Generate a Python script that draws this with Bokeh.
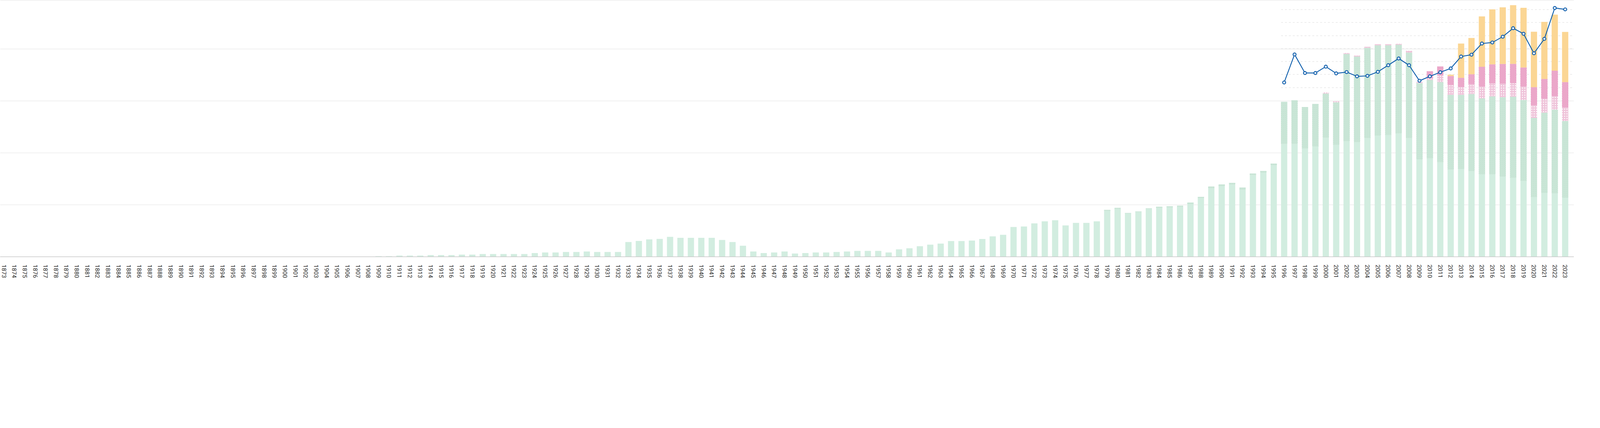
from bokeh.plotting import figure
from bokeh.models import ColumnDataSource, Range1d, FixedTicker, Grid, CanvasTexture, Span
from bokeh.embed import file_html
from bokeh.resources import INLINE

FIRST_YEAR = 1873
years = list(range(1873, 2024))

# solid green (base) series, 1909-2023 (earlier years are empty)
base_start = 1909
base_vals = [
    0.12, 0.12, 0.22, 0.22, 0.22, 0.32, 0.32, 0.32, 0.42, 0.42,
    0.52, 0.52, 0.52, 0.52, 0.52, 0.72, 0.82, 0.82, 0.92, 0.92,
    1.02, 0.92, 0.92, 0.92, 2.84, 3.04, 3.34, 3.44, 3.84, 3.64,
    3.64, 3.64, 3.64, 3.24, 2.84, 2.13, 1.02, 0.72, 0.82, 1.02,
    0.62, 0.72, 0.82, 0.82, 0.92, 1.02, 1.12, 1.13,
    1.13, 0.83, 1.43, 1.63, 2.03, 2.33, 2.53, 3.03, 3.03, 3.13,
    3.43, 3.93, 4.23, 5.73, 5.83, 6.43, 6.83, 7.03, 6.03, 6.53,
    6.53, 6.83, 8.83, 9.23, 8.33, 8.63, 9.23, 9.43, 9.53, 9.63,
    10.13, 11.33, 13.23, 13.63, 13.93, 12.93, 15.73, 16.23, 17.65,
    21.75, 21.75, 20.85, 21.25, 22.95, 21.57, 22.27, 22.08, 22.87, 23.37,
    23.46, 23.77, 22.87, 18.77, 18.96, 18.2, 16.8, 16.9, 16.5, 15.9,
    15.9, 15.45, 15.2, 14.6, 11.5, 12.3, 12.2, 11.4,
]

# green hatched series, 1979-2023
hatch_green_start = 1979
hatch_green_vals = [
    0.2, 0.2, 0.1, 0.1, 0.1, 0.2, 0.2, 0.2, 0.3, 0.2,
    0.3, 0.3, 0.3, 0.4, 0.3, 0.3, 0.3,
    8.1, 8.4, 8.0, 8.2, 8.5, 8.18, 16.8, 16.5, 17.38, 17.38,
    17.29, 17.08, 16.48, 14.7, 15.1, 15.45, 14.4, 14.3, 14.85, 14.6,
    15.0, 15.3, 15.65, 15.6, 15.25, 15.47, 16.15, 14.75,
]

# light pink dotted series, 2000-2023
pink_dot_start = 2000
pink_dot_vals = [
    0.2, 0.21, 0.18, 0.18, 0.2, 0.2, 0.2, 0.2, 0.33, 0.2,
    0.3, 1.3, 1.9, 1.5, 1.9, 2.3, 2.5, 2.6, 2.6, 2.6,
    2.43, 2.68, 2.6, 2.6,
]

# dark pink hatched series, 2010-2023
pink_hatch_start = 2010
pink_hatch_vals = [1.38, 1.7, 1.72, 1.78, 1.9, 3.8, 3.67, 3.8, 3.72, 3.67, 3.5, 3.8, 4.9, 4.9]

# yellow checkered series, 2012-2023
yellow_start = 2012
yellow_vals = [0.25, 6.6, 7.0, 9.7, 10.6, 10.9, 11.3, 11.5, 10.67, 11.0, 10.8, 9.67]

# line series (right scale), 1996-2023
line_years = list(range(1996, 2024))
line_vals = [
    13.39, 15.55, 14.12, 14.12, 14.61, 14.09, 14.19, 13.86, 13.9, 14.21,
    14.72, 15.24, 14.72, 13.52, 13.86, 14.18, 14.47, 15.39, 15.53, 16.39,
    16.47, 16.92, 17.57, 17.14, 15.64, 16.75, 19.13, 19.02,
]


def full(start, vals):
    out = [0.0] * len(years)
    for i, v in enumerate(vals):
        out[start - FIRST_YEAR + i] = v
    return out


series = [
    full(base_start, base_vals),
    full(hatch_green_start, hatch_green_vals),
    full(pink_dot_start, pink_dot_vals),
    full(pink_hatch_start, pink_hatch_vals),
    full(yellow_start, yellow_vals),
]

data = {"year": years}
running = [0.0] * len(years)
for k, s in enumerate(series):
    data[f"b{k}"] = list(running)
    running = [r + v for r, v in zip(running, s)]
    data[f"t{k}"] = list(running)
src = ColumnDataSource(data)
line_src = ColumnDataSource({"year": line_years, "v": line_vals})

BAR_W = 0.6
X_START, X_END = 1872.64, 2023.85
Y_END = 49.43

p = figure(
    width=4029, height=714,
    x_range=Range1d(X_START, X_END), y_range=Range1d(0, Y_END),
    output_backend="svg", toolbar_location=None,
    min_border_left=0, min_border_right=0, min_border_top=0, min_border_bottom=55,
    background_fill_color="white", border_fill_color="white",
)
p.outline_line_color = None
p.extra_y_ranges = {"line": Range1d(-0.04, 19.73)}

# axes
p.yaxis.visible = False
xa = p.xaxis[0]
xa.ticker = FixedTicker(ticks=years)
xa.major_label_orientation = "vertical"
xa.major_label_text_font = "Roboto"
xa.major_label_text_font_size = "15.3px"
xa.major_label_text_color = "#2b2b2b"
xa.major_tick_line_color = None
xa.minor_tick_line_color = None
xa.major_label_standoff = 14
xa.axis_line_color = "#c6c6c6"
xa.axis_line_width = 1.4

# grids
p.xgrid.visible = False
p.ygrid.ticker = FixedTicker(ticks=[10, 20, 30, 40])
p.ygrid.grid_line_color = "#ebebeb"
p.ygrid.grid_line_width = 1.4
p.add_layout(Span(location=Y_END, dimension="width", line_color="#ebebeb", line_width=2.5,
                  level="underlay"))

dash_grid = Grid(
    dimension=1, y_range_name="line",
    ticker=FixedTicker(ticks=[13, 14, 15, 16, 17, 18, 19]),
    grid_line_color="#e6e6e6", grid_line_width=1.4, grid_line_dash="5 5",
    cross_bounds=(line_years[0] - BAR_W / 2, X_END),
)
p.add_layout(dash_grid)

checker = CanvasTexture(code="""
const s = scale / 2;
ctx.fillStyle = color;
ctx.fillRect(0, 0, s, s);
ctx.fillRect(s, s, s, s);
""")

styles = [
    dict(fill_color="#d2ede0"),
    dict(fill_color="#b1d9c4", hatch_pattern="/", hatch_color="#e2f2e9", hatch_scale=5, hatch_weight=1.1),
    dict(fill_color="#efc4da", hatch_pattern=".", hatch_color="#ffffff", hatch_scale=6),
    dict(fill_color="#e08ab6", hatch_pattern="\\", hatch_color="#f5c3dc", hatch_scale=6, hatch_weight=1.4),
    dict(fill_color="#fbd694", hatch_pattern="checker", hatch_extra={"checker": checker},
         hatch_color="#fdf1dc", hatch_scale=6),
]
for k, st in enumerate(styles):
    p.vbar(x="year", bottom=f"b{k}", top=f"t{k}", width=BAR_W, source=src,
           line_color=None, **st)

p.line("year", "v", source=line_src, y_range_name="line", line_color="#0b5cab", line_width=2.2)
p.scatter("year", "v", source=line_src, y_range_name="line", marker="circle", size=7.7,
          fill_color="#eef3fa", line_color="#0b5cab", line_width=2.2)

open("out.html", "w").write(file_html(p, INLINE))
